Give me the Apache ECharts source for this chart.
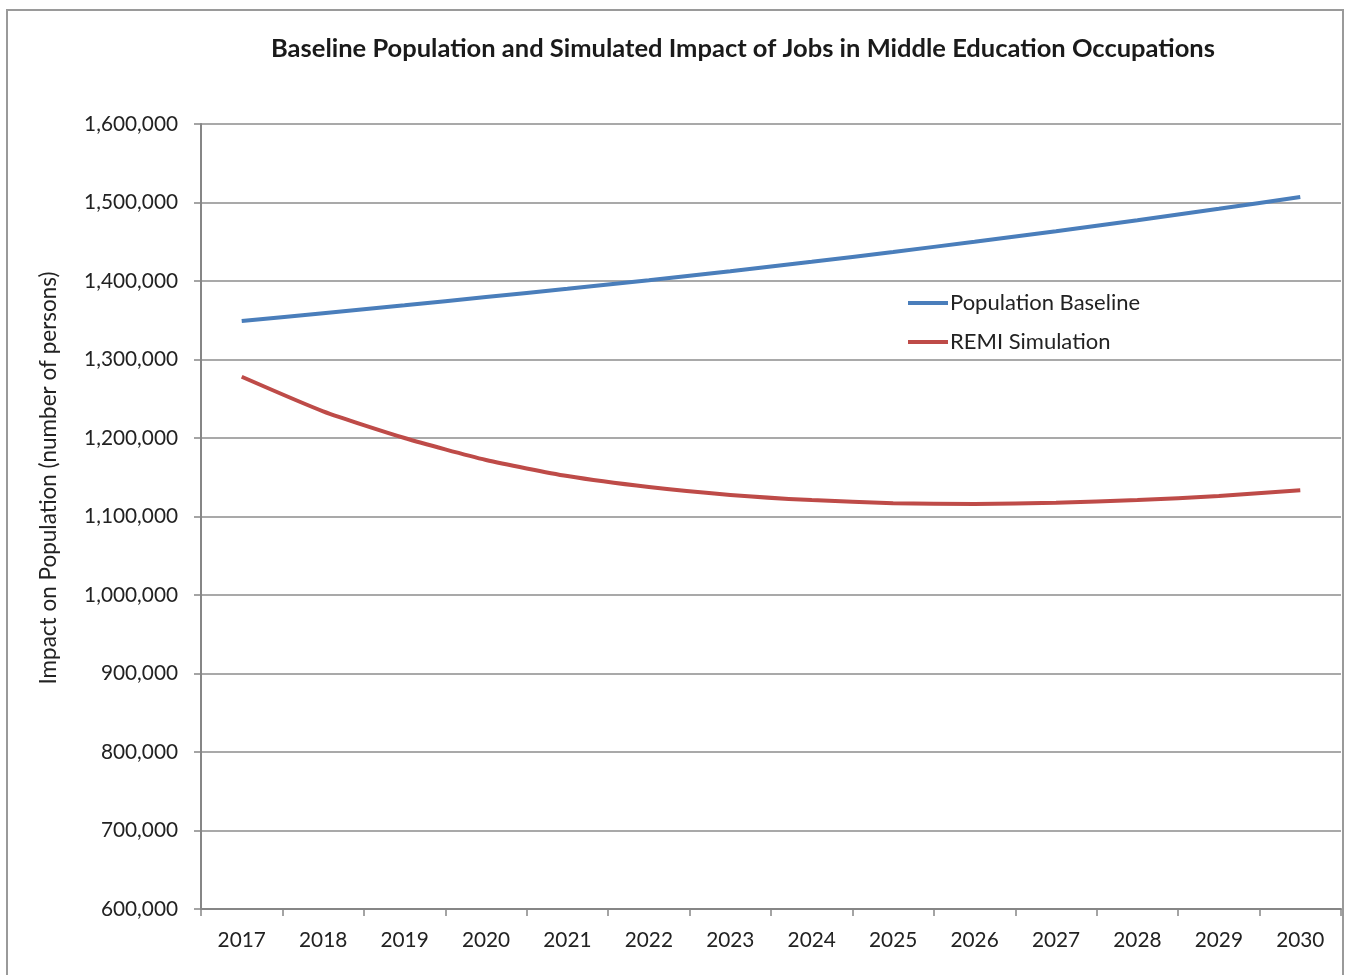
<!DOCTYPE html>
<html>
<head>
<meta charset="utf-8">
<script src="https://cdn.jsdelivr.net/npm/echarts@6/dist/echarts.min.js"></script>
<style>html,body{margin:0;padding:0;background:#fff;}#c{width:1345px;height:975px;}</style>
</head>
<body>
<div id="c"></div>
<script>
const years = ['2017','2018','2019','2020','2021','2022','2023','2024','2025','2026','2027','2028','2029','2030'];
const baseline = [1349000,1359000,1369000,1379500,1390000,1401000,1412500,1424500,1437000,1450000,1463500,1477500,1492000,1507000];
const remi = [1278000,1234000,1200000,1172000,1151500,1137500,1127500,1121000,1117000,1116000,1117500,1121000,1126000,1133500];
const titleText = 'Baseline Population and Simulated Impact of Jobs in Middle Education Occupations';
const yAxisTitle = 'Impact on Population (number of persons)';
const seriesNames = ['Population Baseline','REMI Simulation'];

const font = 'Lato, "Open Sans", "Liberation Sans", sans-serif';
const chart = echarts.init(document.getElementById('c'), null, {renderer:'canvas'});
chart.setOption({
  animation: false,
  backgroundColor: '#fff',
  title: {
    text: titleText, left: 738, top: 31, textAlign: 'center',
    textStyle: {fontFamily: font, fontWeight: 'bold', fontSize: 25.5, color: '#1a1a1a'}
  },
  legend: {
    left: 903, top: 287, orient: 'vertical', itemGap: 17,
    itemWidth: 40, itemHeight: 4, icon: 'rect',
    textStyle: {fontFamily: font, fontSize: 22, color: '#222', padding: [0,0,0,-3]},
    data: seriesNames
  },
  grid: {left: 201, right: 4, top: 124, bottom: 66},
  xAxis: {
    type: 'category', data: years, boundaryGap: true,
    axisLine: {lineStyle: {color: '#868686', width: 2}},
    axisTick: {show: true, length: 7, lineStyle: {color: '#868686', width: 1.5}},
    axisLabel: {fontFamily: font, fontSize: 20.8, color: '#222', margin: 21}
  },
  yAxis: {
    type: 'value', min: 600000, max: 1600000, interval: 100000,
    axisLine: {show: true, lineStyle: {color: '#868686', width: 2}},
    axisTick: {show: true, length: 7, lineStyle: {color: '#868686', width: 1.5}},
    splitLine: {lineStyle: {color: '#8c8c8c', width: 1.5}},
    axisLabel: {fontFamily: font, fontSize: 20.8, color: '#222', margin: 23,
      formatter: v => v.toLocaleString('en-US')}
  },
  graphic: [
    {type: 'rect', shape: {x: 7, y: 10, width: 1336, height: 1000},
     style: {fill: 'none', stroke: '#9a9a9a', lineWidth: 2}, silent: true, z: -1},
    {type: 'text', x: 49, y: 478, rotation: Math.PI/2,
     style: {text: yAxisTitle, fontFamily: font, fontSize: 22.5, fill: '#222',
       textAlign: 'center', textVerticalAlign: 'middle'}}
  ],
  series: [
    {name: seriesNames[0], type: 'line', data: baseline, symbol: 'none', smooth: 0.2,
     lineStyle: {color: '#4a7ebb', width: 4}, itemStyle: {color: '#4a7ebb'}},
    {name: seriesNames[1], type: 'line', data: remi, symbol: 'none', smooth: 0.2,
     lineStyle: {color: '#be4b48', width: 4}, itemStyle: {color: '#be4b48'}}
  ]
});
</script>
</body>
</html>
